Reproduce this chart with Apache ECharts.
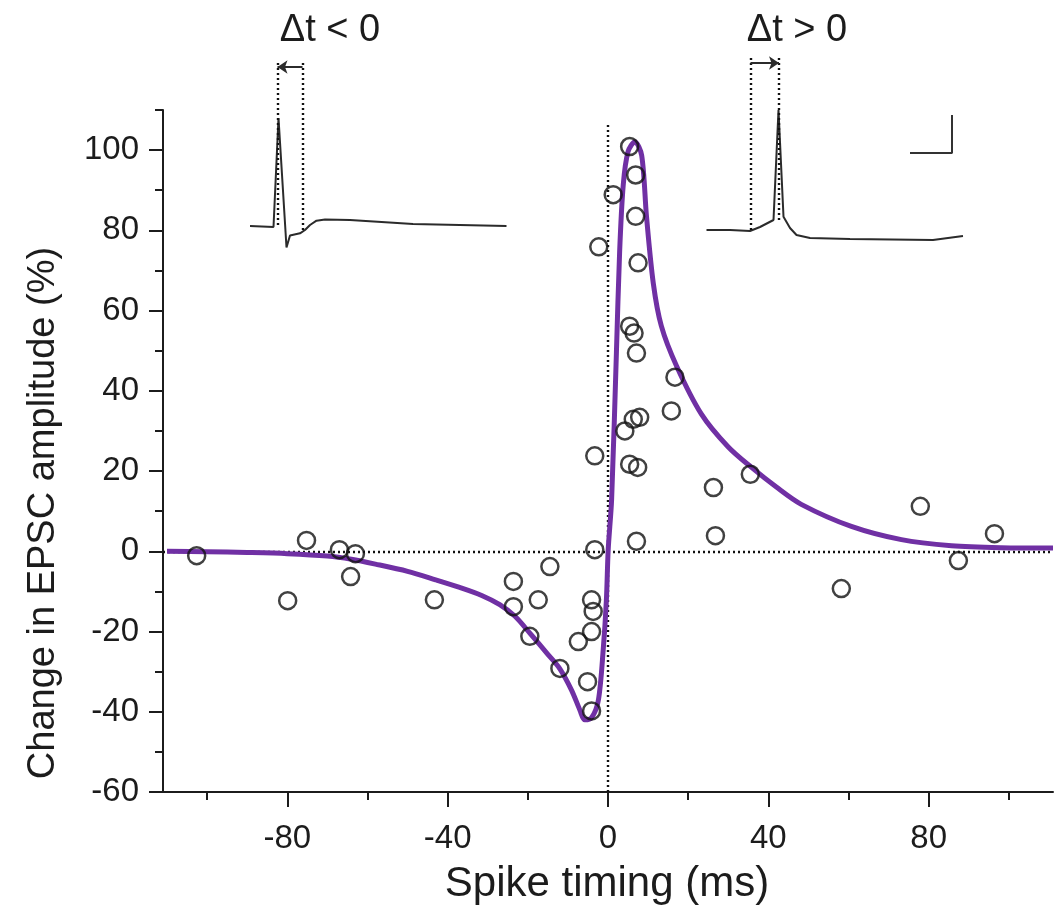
<!DOCTYPE html>
<html>
<head>
<meta charset="utf-8">
<title>Spike timing dependent plasticity</title>
<script src="https://cdn.jsdelivr.net/npm/echarts@6/dist/echarts.min.js"></script>
<style>
  html, body { margin: 0; padding: 0; background: #ffffff; }
  #chart { width: 1063px; height: 915px; }
</style>
</head>
<body>
<div id="chart"></div>
<script>
// Spike timing (ms) vs change in EPSC amplitude (%) for each pairing experiment
const spikeTiming = [
  -102.6, -79.9, -75.2, -67.0, -63.0, -64.2, -43.3, -23.6, -23.6, -17.4,
  -14.5, -19.5, -12.0, -7.4, -4.1, -3.7, -4.1, -5.1, -4.1, -3.3,
  -3.3, -2.3, 1.3, 5.4, 6.9, 6.9, 7.5, 5.4, 6.5, 7.1,
  4.2, 6.3, 7.9, 5.4, 7.4, 7.1, 16.7, 15.8, 26.3, 26.8,
  35.5, 58.2, 77.9, 87.4, 96.4
];
const epscChange = [
  -1.1, -12.3, 2.7, 0.4, -0.6, -6.3, -12.1, -7.5, -13.8, -12.1,
  -3.8, -21.2, -29.2, -22.5, -12.1, -15.0, -20.0, -32.5, -39.8, 0.4,
  23.8, 75.9, 88.9, 100.9, 93.8, 83.5, 71.9, 56.1, 54.4, 49.4,
  30.0, 32.9, 33.4, 21.7, 20.9, 2.5, 43.4, 35.0, 15.9, 3.9,
  19.2, -9.3, 11.2, -2.3, 4.4
];

// Fitted plasticity window
const fitTiming = [
  -110, -100, -90, -80, -70, -64, -58, -50, -43, -37,
  -31.5, -27, -23.2, -19.5, -14.9, -12, -9.1, -7, -5.8, -4.1,
  -2.4, -1.2, -0.4, 0.05, 0.9, 2.1, 2.9, 3.8, 5.0, 6.7,
  8.4, 9.6, 11.3, 13.3, 17.1, 23.3, 30, 35.8, 42, 48.2,
  60.7, 73.2, 85.7, 98.1, 111
];
const fitChange = [
  0, -0.1, -0.3, -0.6, -1.2, -2.0, -3.2, -5.0, -7.1, -9.0,
  -11.0, -13.3, -16.2, -20.4, -25.8, -29.3, -34.6, -39.6, -42.0, -41.5,
  -37.1, -24.6, -12.1, 0.4, 12.9, 49.6, 74.6, 91.3, 99.6, 102.1,
  98.7, 83.5, 66.8, 56.2, 46.2, 34.2, 26.0, 20.9, 16.0, 11.7,
  6.2, 2.9, 1.4, 0.9, 0.8
];

// Axis ticks
const xMajorTicks = [-80, -40, 0, 40, 80];
const xMinorTicks = [-100, -60, -20, 20, 60, 100];
const yMajorTicks = [-60, -40, -20, 0, 20, 40, 60, 80, 100];
const yMinorTicks = [-50, -30, -10, 10, 30, 50, 70, 90, 110];

// Example recordings: time (ms) and membrane potential (mV)
const preTraceTime = [0, 4.7, 5.7, 7.3, 8.0, 10.0, 11.0, 12.0, 13.3, 15, 20, 32.6, 51.3];
const preTraceVm   = [-69, -70, 39, -90.5, -78.5, -76.3, -73, -68, -63.7, -62.5, -63, -67, -69];
const postTraceTime = [1.3, 6, 10, 12, 14.7, 15.7, 16.7, 18, 19.3, 22, 30, 46.6, 52.6];
const postTraceVm   = [-70, -70, -71, -67, -60, 50, -56.7, -68, -75, -78, -79, -80, -76];

// Pairing markers in each recording (ms)
const preMarks = [5.5, 10.5];
const postMarks = [10.1, 15.8];
// Scale bar corner (ms, mV)
const scaleBarTime = [42, 50.4, 50.4];
const scaleBarVm = [7, 7, 45];

const zip = (a, b) => a.map((v, i) => [v, b[i]]);

const ink = '#1c1c1c';
const fontFamily = '"Liberation Sans", Arial, Helvetica, sans-serif';
const dotted = { type: [2, 3], color: '#111111', width: 2.4 };

const chart = echarts.init(document.getElementById('chart'), null, { renderer: 'canvas' });

const traceLine = { color: '#2b2b2b', width: 2 };
const arrowLine = { type: 'solid', color: '#2b2b2b', width: 2 };

chart.setOption({
  backgroundColor: '#ffffff',
  animation: false,
  grid: [
    { left: 163, top: 110, width: 890, height: 682 },
    { left: 250, top: 52, width: 260, height: 200 },
    { left: 700, top: 55, width: 270, height: 200 }
  ],
  xAxis: [
    {
      type: 'value', gridIndex: 0, min: -111, max: 111, position: 'bottom',
      axisLine: { show: true, onZero: false, lineStyle: { color: ink, width: 2 } },
      axisTick: { show: true, customValues: xMajorTicks, length: 15, lineStyle: { color: ink, width: 2 } },
      axisLabel: { show: true, customValues: xMajorTicks, margin: 30, fontSize: 33, color: ink, fontFamily: fontFamily },
      splitLine: { show: false }
    },
    {
      type: 'value', gridIndex: 0, min: -111, max: 111, position: 'bottom',
      axisLine: { show: false, onZero: false },
      axisTick: { show: true, customValues: xMinorTicks, length: 8, lineStyle: { color: ink, width: 2 } },
      axisLabel: { show: false },
      splitLine: { show: false }
    },
    { type: 'value', gridIndex: 1, min: 0, max: 52, show: false },
    { type: 'value', gridIndex: 2, min: 0, max: 54, show: false }
  ],
  yAxis: [
    {
      type: 'value', gridIndex: 0, min: -60, max: 110, position: 'left',
      axisLine: { show: true, onZero: false, lineStyle: { color: ink, width: 2 } },
      axisTick: { show: true, customValues: yMajorTicks, length: 14, lineStyle: { color: ink, width: 2 } },
      axisLabel: { show: true, customValues: yMajorTicks, margin: 24, fontSize: 33, color: ink, fontFamily: fontFamily },
      splitLine: { show: false }
    },
    {
      type: 'value', gridIndex: 0, min: -60, max: 110, position: 'left',
      axisLine: { show: false, onZero: false },
      axisTick: { show: true, customValues: yMinorTicks, length: 8, lineStyle: { color: ink, width: 2 } },
      axisLabel: { show: false },
      splitLine: { show: false }
    },
    { type: 'value', gridIndex: 1, min: -95, max: 105, show: false },
    { type: 'value', gridIndex: 2, min: -95, max: 105, show: false }
  ],
  graphic: [
    {
      type: 'text', x: 607, y: 884, z: 10,
      style: { text: 'Spike timing (ms)', fontSize: 42, fontFamily: fontFamily, fill: ink, align: 'center', verticalAlign: 'middle' }
    },
    {
      type: 'text', x: 44, y: 513, rotation: Math.PI / 2, z: 10,
      style: { text: 'Change in EPSC amplitude (%)', fontSize: 38, fontFamily: fontFamily, fill: ink, align: 'center', verticalAlign: 'middle' }
    },
    {
      type: 'text', x: 330, y: 31, z: 10,
      style: { text: '\u0394t < 0', fontSize: 38, fontFamily: fontFamily, fill: ink, align: 'center', verticalAlign: 'middle' }
    },
    {
      type: 'text', x: 797, y: 31, z: 10,
      style: { text: '\u0394t > 0', fontSize: 38, fontFamily: fontFamily, fill: ink, align: 'center', verticalAlign: 'middle' }
    }
  ],
  series: [
    {
      name: 'fit', type: 'line', xAxisIndex: 0, yAxisIndex: 0,
      data: zip(fitTiming, fitChange),
      smooth: 0.3, showSymbol: false, symbol: 'none', z: 3,
      lineStyle: { color: '#7030a4', width: 5 },
      markLine: {
        silent: true, symbol: 'none', label: { show: false }, z: 1,
        lineStyle: dotted,
        data: [
          { yAxis: 0 },
          [{ coord: [0, -60] }, { coord: [0, 107] }]
        ]
      }
    },
    {
      name: 'pairings', type: 'scatter', xAxisIndex: 0, yAxisIndex: 0,
      data: zip(spikeTiming, epscChange),
      symbol: 'circle', symbolSize: 17, z: 4,
      itemStyle: { color: 'rgba(255,255,255,0)', borderColor: '#111111', borderWidth: 2.5 }
    },
    {
      name: 'pre first', type: 'line', xAxisIndex: 2, yAxisIndex: 2,
      data: zip(preTraceTime, preTraceVm),
      showSymbol: false, symbol: 'none', lineStyle: traceLine,
      markLine: {
        silent: true, label: { show: false }, animation: false,
        data: [
          [{ coord: [preMarks[0], 94], symbol: 'none' }, { coord: [preMarks[0], -70], symbol: 'none', lineStyle: dotted }],
          [{ coord: [preMarks[1], 94], symbol: 'none' }, { coord: [preMarks[1], -76], symbol: 'none', lineStyle: dotted }],
          [{ coord: [preMarks[1], 90], symbol: 'none' }, { coord: [preMarks[0], 90], symbol: 'arrow', symbolSize: [10, 10], lineStyle: arrowLine }]
        ]
      }
    },
    {
      name: 'post first', type: 'line', xAxisIndex: 3, yAxisIndex: 3,
      data: zip(postTraceTime, postTraceVm),
      showSymbol: false, symbol: 'none', lineStyle: traceLine,
      markLine: {
        silent: true, label: { show: false }, animation: false,
        data: [
          [{ coord: [postMarks[0], 102], symbol: 'none' }, { coord: [postMarks[0], -70], symbol: 'none', lineStyle: dotted }],
          [{ coord: [postMarks[1], 102], symbol: 'none' }, { coord: [postMarks[1], -60], symbol: 'none', lineStyle: dotted }],
          [{ coord: [postMarks[0], 97], symbol: 'none' }, { coord: [postMarks[1], 97], symbol: 'arrow', symbolSize: [10, 10], lineStyle: arrowLine }]
        ]
      }
    },
    {
      name: 'scale bar', type: 'line', xAxisIndex: 3, yAxisIndex: 3,
      data: zip(scaleBarTime, scaleBarVm),
      showSymbol: false, symbol: 'none', lineStyle: { color: '#333333', width: 2 }
    }
  ]
});
</script>
</body>
</html>
